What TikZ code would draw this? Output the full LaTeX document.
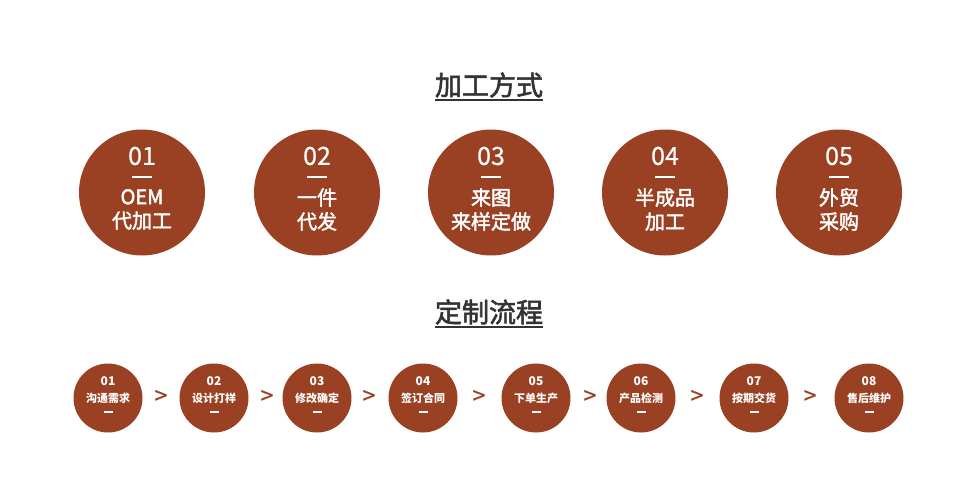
\documentclass[tikz,border=0pt]{standalone}
\usepackage{fontspec}
\setmainfont{Noto Sans CJK SC}
\newfontfamily\midfont[FakeBold=2]{Noto Sans CJK SC}
\newfontfamily\numfont[FakeBold=0.6]{Noto Sans CJK SC}
\definecolor{rust}{RGB}{155,65,35}
\definecolor{ink}{RGB}{51,51,51}

\begin{document}
\begin{tikzpicture}[x=1pt,y=-1pt]

    \tikzstyle{every node}=[inner sep=0pt,outer sep=0pt]
    \tikzstyle{big}=[circle,fill=rust,minimum size=126pt]
    \tikzstyle{small}=[circle,fill=rust,minimum size=69pt]
    \tikzstyle{title}=[text=ink,font=\midfont\fontsize{27}{27}\selectfont]
    \tikzstyle{bignum}=[text=white,font=\numfont\fontsize{25}{25}\selectfont]
    \tikzstyle{bigtxt}=[text=white,font=\midfont\fontsize{20}{24}\selectfont,align=center]
    \tikzstyle{smallnum}=[text=white,font=\bfseries\fontsize{12}{12}\selectfont]
    \tikzstyle{smalltxt}=[text=white,font=\bfseries\fontsize{11}{11}\selectfont]
    \tikzstyle{bigdash}=[fill=white,minimum width=20pt,minimum height=2.6pt]
    \tikzstyle{smalldash}=[fill=white,minimum width=9pt,minimum height=1.4pt]
    \tikzstyle{chev}=[text=rust,font=\numfont\fontsize{23}{23}\selectfont]

    \useasboundingbox (0,0) rectangle (978,498);

    % titles
    \node[title](t1) at (489,85){加工方式};
    \node[title](t2) at (489,312){定制流程};
    \draw[ink,line width=1.6pt] ([yshift=-15pt]t1.west) -- ([yshift=-15pt]t1.east);
    \draw[ink,line width=1.6pt] ([yshift=-15pt]t2.west) -- ([yshift=-15pt]t2.east);

    % processing modes
    \node[big](c1) at (142,192.5){};
    \node[big](c2) at (317,192.5){};
    \node[big](c3) at (491,192.5){};
    \node[big](c4) at (665,192.5){};
    \node[big](c5) at (839,192.5){};

    \node[bignum](n1) at (142,156){01};
    \node[bignum](n2) at (317,156){02};
    \node[bignum](n3) at (491,156){03};
    \node[bignum](n4) at (665,156){04};
    \node[bignum](n5) at (839,156){05};

    \node[bigdash](d1) at (142,177){};
    \node[bigdash](d2) at (317,177){};
    \node[bigdash](d3) at (491,177){};
    \node[bigdash](d4) at (665,177){};
    \node[bigdash](d5) at (839,177){};

    \node[bigtxt](l1) at (142,209.5){OEM\\代加工};
    \node[bigtxt](l2) at (317,209.5){一件\\代发};
    \node[bigtxt](l3) at (491,209.5){来图\\来样定做};
    \node[bigtxt](l4) at (665,209.5){半成品\\加工};
    \node[bigtxt](l5) at (839,209.5){外贸\\采购};

    % custom flow
    \node[small](s1) at (108,398){};
    \node[small](s2) at (214,398){};
    \node[small](s3) at (317,398){};
    \node[small](s4) at (423,398){};
    \node[small](s5) at (536,398){};
    \node[small](s6) at (641,398){};
    \node[small](s7) at (754,398){};
    \node[small](s8) at (869,398){};

    \node[smallnum](m1) at (108,381){01};
    \node[smallnum](m2) at (214,381){02};
    \node[smallnum](m3) at (317,381){03};
    \node[smallnum](m4) at (423,381){04};
    \node[smallnum](m5) at (536,381){05};
    \node[smallnum](m6) at (641,381){06};
    \node[smallnum](m7) at (754,381){07};
    \node[smallnum](m8) at (869,381){08};

    \node[smalltxt](p1) at (108,398){沟通需求};
    \node[smalltxt](p2) at (214,398){设计打样};
    \node[smalltxt](p3) at (317,398){修改确定};
    \node[smalltxt](p4) at (423,398){签订合同};
    \node[smalltxt](p5) at (536,398){下单生产};
    \node[smalltxt](p6) at (641,398){产品检测};
    \node[smalltxt](p7) at (754,398){按期交货};
    \node[smalltxt](p8) at (869,398){售后维护};

    \node[smalldash](e1) at (108,412){};
    \node[smalldash](e2) at (214,412){};
    \node[smalldash](e3) at (317,412){};
    \node[smalldash](e4) at (423,412){};
    \node[smalldash](e5) at (536,412){};
    \node[smalldash](e6) at (641,412){};
    \node[smalldash](e7) at (754,412){};
    \node[smalldash](e8) at (869,412){};

    % chevrons between steps
    \node[chev](g1) at (161,397){>};
    \node[chev](g2) at (267,397){>};
    \node[chev](g3) at (369,397){>};
    \node[chev](g4) at (479,397){>};
    \node[chev](g5) at (590,397){>};
    \node[chev](g6) at (697,397){>};
    \node[chev](g7) at (810,397){>};

\end{tikzpicture}
\end{document}
